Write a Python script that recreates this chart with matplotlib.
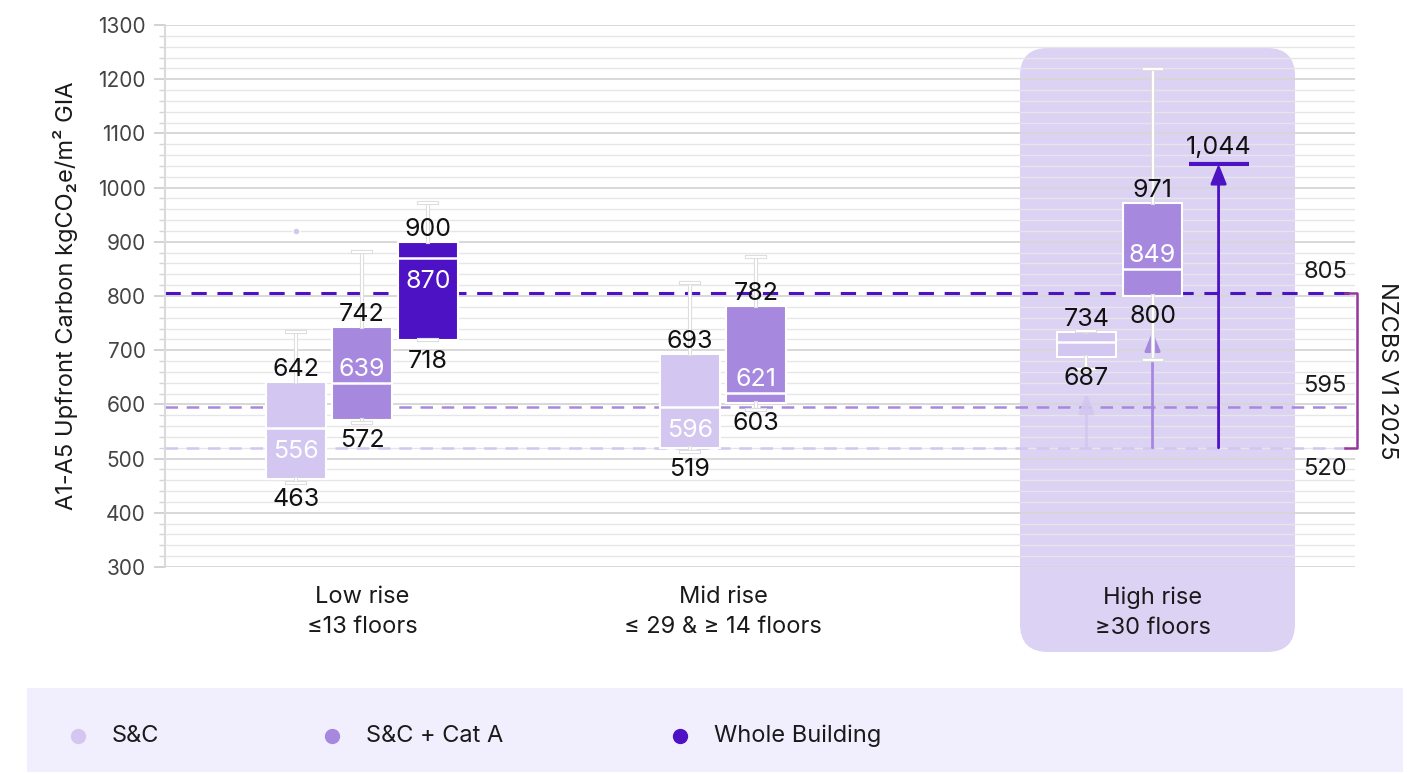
import matplotlib
matplotlib.use("Agg")
import matplotlib.pyplot as plt
from matplotlib.patches import FancyBboxPatch
from matplotlib.lines import Line2D
import matplotlib.patheffects as pe

plt.rcParams['font.family'] = ['Inter', 'DejaVu Sans']

# ---------------- data ----------------
groups = ["Low rise\n≤13 floors", "Mid rise\n≤ 29 & ≥ 14 floors", "High rise\n≥30 floors"]
series = ["S&C", "S&C + Cat A", "Whole Building"]
colors = ["#D3C6F0", "#A689DF", "#4C12C4"]

# box statistics per group: (series index, whislo, q1, med, q3, whishi, fliers)
low_boxes = [(0, 455, 463, 556, 642, 733, [920]),
             (1, 565, 572, 639, 742, 881, []),
             (2, 718, 718, 870, 900, 972, [])]
mid_boxes = [(0, 512, 519, 596, 693, 824, []),
             (1, 590, 603, 621, 782, 872, [])]
high_boxes = [(0, 665, 687, 715, 734, 736, []),
              (1, 682, 800, 849, 971, 1219, [])]
high_whole_building = 1044
# median label side: +1 above median line, -1 below, 0 none
low_med_side = [-1, 1, -1]
mid_med_side = [-1, 1]
high_med_side = [0, 1]

thresholds = [805, 595, 520]
threshold_labels = ["805", "595", "520"]
arrow_base = 520
high_arrow_tips = [620, 735, 1044]

yticks = list(range(300, 1301, 100))

# ---------------- layout ----------------
W, H, DPI = 14.26, 7.74, 100
fig = plt.figure(figsize=(W, H), dpi=DPI)
ax = fig.add_axes([165 / 1426, 1 - 567 / 774, (1355 - 165) / 1426, (567 - 25) / 774])
ax.set_facecolor("none")
ax.set_zorder(2)

group_pos = [0.0, 1.0, 2.19]
box_w = 0.166
step = 0.183

# highlight behind High rise
hl = FancyBboxPatch((10.20, 1.22), 2.75, 6.04,
                    boxstyle="round,pad=0,rounding_size=0.28",
                    transform=fig.dpi_scale_trans, facecolor="#DBD2F4",
                    edgecolor="none", zorder=-1)
fig.patches.append(hl)

# legend band
band = FancyBboxPatch((0.27, 0.02), 13.76, 0.84, boxstyle="square,pad=0",
                      transform=fig.dpi_scale_trans, facecolor="#F1EFFD",
                      edgecolor="none", zorder=-1)
fig.patches.append(band)

ax.set_ylim(300, 1300)
ax.set_xlim(-0.546, 2.751)

# grid
for v in range(300, 1301, 20):
    major = (v % 100 == 0)
    ax.axhline(v, color="#D6D6D6" if major else "#E6E6E6",
               lw=1.3 if major else 1.0, zorder=1)

ax.set_yticks(yticks)
ax.set_yticks(range(300, 1301, 20), minor=True)
ax.tick_params(axis="y", which="major", length=8, color="#CFCFCF", labelsize=15,
               labelcolor="#444444", pad=6, width=1.3)
ax.tick_params(axis="y", which="minor", length=4, color="#D5D5D5", width=1)
for s in ["top", "right", "bottom"]:
    ax.spines[s].set_visible(False)
ax.spines["left"].set_color("#DADADA")
ax.spines["left"].set_linewidth(1.5)
ax.set_xticks(group_pos)
ax.set_xticklabels(groups, fontsize=17, color="#1a1a1a", linespacing=1.45)
ax.tick_params(axis="x", length=0, pad=14)
ax.set_ylabel("A1-A5 Upfront Carbon kgCO₂e/m² GIA", fontsize=17,
              color="#1a1a1a", labelpad=14)

# threshold lines
th_styles = [(colors[2], 2.2), (colors[1], 1.8), (colors[0], 1.8)]
for v, (c, lw) in zip(thresholds, th_styles):
    ax.axhline(v, color=c, lw=lw, ls=(0, (5, 3.5)), zorder=2)

for v, lab, side in zip(thresholds, threshold_labels, [1, 1, -1]):
    ax.annotate(lab, xy=(0.975, v), xycoords=("axes fraction", "data"),
                xytext=(0, 15 * side), textcoords="offset points",
                ha="center", va="center", fontsize=17, color="#1a1a1a")

# bracket
bx = 1.0015
ax.plot([0.992, bx, bx, 0.992], [thresholds[0], thresholds[0], thresholds[2], thresholds[2]],
        transform=ax.get_yaxis_transform(), color="#95379A", lw=1.8,
        clip_on=False, zorder=3)
ax.text(1.027, (thresholds[0] + thresholds[2]) / 2, "NZCBS V1 2025",
        transform=ax.get_yaxis_transform(), rotation=270, ha="center",
        va="center", fontsize=17, color="#1a1a1a", clip_on=False)

wpe = [pe.Stroke(linewidth=3.0, foreground="#DDDDDD"), pe.Normal()]


def draw_boxes(boxes, center, sides):
    n = len(boxes)
    for k, (si, lo, q1, med, q3, hi, fl) in enumerate(boxes):
        x = center + (k - (n - 1) / 2) * step
        stats = [dict(whislo=lo, q1=q1, med=med, q3=q3, whishi=hi, fliers=fl)]
        art = ax.bxp(stats, positions=[x], widths=box_w, patch_artist=True,
                     showfliers=True, manage_ticks=False,
                     boxprops=dict(facecolor=colors[si], edgecolor="white", linewidth=1.5),
                     medianprops=dict(color="white", linewidth=1.8),
                     whiskerprops=dict(color="white", linewidth=1.5, path_effects=wpe),
                     capprops=dict(color="white", linewidth=1.5, path_effects=wpe),
                     capwidths=box_w * 0.3,
                     flierprops=dict(marker="o", markersize=5, markerfacecolor=colors[si],
                                     markeredgecolor="white"))
        for key in art:
            for a in art[key]:
                a.set_zorder(4)
        ax.annotate(f"{q3:,}", xy=(x, q3), xytext=(0, 9), textcoords="offset points",
                    ha="center", va="center", fontsize=18, color="#111111", zorder=6)
        ax.annotate(f"{q1:,}", xy=(x, q1), xytext=(0, -15), textcoords="offset points",
                    ha="center", va="center", fontsize=18, color="#111111", zorder=6)
        side = sides[k]
        if side != 0:
            off = 10 if side > 0 else -17
            ax.annotate(f"{med:,}", xy=(x, med), xytext=(0, off), textcoords="offset points",
                        ha="center", va="center", fontsize=18, color="white", zorder=6)


# High rise arrows (behind boxes)
arrow_alpha = [0.85, 1.0, 1.0]
for k, tip in enumerate(high_arrow_tips):
    x = group_pos[2] + (k - 1) * step
    ax.annotate("", xy=(x, tip), xytext=(x, arrow_base),
                arrowprops=dict(arrowstyle="-|>,head_length=0.6,head_width=0.24",
                                color=colors[k], lw=2.0, shrinkA=0, shrinkB=0,
                                alpha=arrow_alpha[k], mutation_scale=20), zorder=3)

draw_boxes(low_boxes, group_pos[0], low_med_side)
draw_boxes(mid_boxes, group_pos[1], mid_med_side)
draw_boxes(high_boxes, group_pos[2] - step / 2, high_med_side)

# whole building high rise marker
xwb = group_pos[2] + step
ax.hlines(high_whole_building, xwb - box_w / 2, xwb + box_w / 2, color=colors[2], lw=3, zorder=5)
ax.annotate(f"{high_whole_building:,}", xy=(xwb, high_whole_building), xytext=(0, 12),
            textcoords="offset points", ha="center", va="center", fontsize=18,
            color="#111111", zorder=6)

# legend
leg_x = [0.78, 3.32, 6.80]
for lx, lab, c in zip(leg_x, series, colors):
    fig.lines.append(Line2D([lx], [0.38], marker="o", markersize=10, color=c,
                            transform=fig.dpi_scale_trans, linestyle="none"))
    fig.text((lx + 0.34) / W, 0.38 / H, lab, ha="left", va="center",
             fontsize=17, color="#1a1a1a")

fig.savefig("out.png", dpi=DPI)
